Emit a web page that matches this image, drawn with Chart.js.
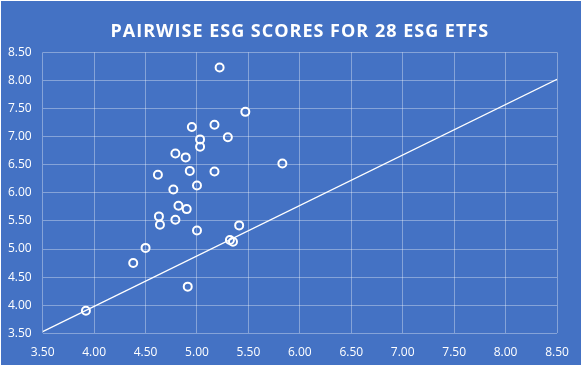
<!DOCTYPE html>
<html>
<head>
<meta charset="utf-8">
<script src="https://cdn.jsdelivr.net/npm/chart.js@4.4.0/dist/chart.umd.min.js"></script>
<style>
  html, body { margin: 0; padding: 0; background: #ffffff; }
  #box { position: absolute; left: 1px; top: 1px; width: 580px; height: 364px; background: #4472c4; }
</style>
</head>
<body>
<div id="box"><canvas id="esgChart"></canvas></div>
<script>
// Pairwise ESG scores, one point per ETF
const scoreA = [5.22, 5.47, 4.95, 5.17, 5.03, 5.03, 5.30, 4.79, 4.89, 5.83,
                4.62, 4.93, 5.17, 4.77, 5.00, 4.82, 4.90, 4.63, 4.64, 4.79,
                5.00, 5.41, 5.32, 5.35, 4.50, 4.91, 4.38, 3.92];
const scoreB = [8.23, 7.44, 7.17, 7.21, 6.95, 6.82, 6.99, 6.70, 6.63, 6.52,
                6.32, 6.39, 6.38, 6.06, 6.13, 5.77, 5.71, 5.58, 5.43, 5.52,
                5.33, 5.42, 5.16, 5.13, 5.02, 4.33, 4.75, 3.90];

// Straight reference line across the plot
const lineX = [3.50, 8.50];
const lineY = [3.53, 8.02];

const axisMin = 3.5;
const axisMax = 8.5;
const axisStep = 0.5;

const gridColor = 'rgba(255, 255, 255, 0.35)';

// title gets its own letter spacing, drawn like the original
const spacedTitle = {
  id: 'spacedTitle',
  beforeDraw(chart) {
    const t = chart.titleBlock;
    if (t && !t._spaced) {
      const orig = t.draw;
      t.draw = function () {
        chart.ctx.save();
        chart.ctx.letterSpacing = '1px';
        orig.call(this);
        chart.ctx.restore();
      };
      t._spaced = true;
    }
  }
};

const ctx = document.getElementById('esgChart').getContext('2d');
new Chart(ctx, {
  type: 'scatter',
  data: {
    datasets: [
      {
        label: 'ETFs',
        data: scoreA.map((x, i) => ({ x: x, y: scoreB[i] })),
        pointRadius: 4,
        pointBorderWidth: 2,
        pointBorderColor: '#ffffff',
        pointBackgroundColor: 'rgba(0,0,0,0)',
        showLine: false
      },
      {
        label: 'Line',
        data: lineX.map((x, i) => ({ x: x, y: lineY[i] })),
        showLine: true,
        borderColor: '#ffffff',
        borderWidth: 1.2,
        pointRadius: 0
      }
    ]
  },
  options: {
    responsive: true,
    maintainAspectRatio: false,
    animation: false,
    layout: { padding: { left: 0, right: 24, top: 0, bottom: 0 } },
    plugins: {
      legend: { display: false },
      tooltip: { enabled: false },
      title: {
        display: true,
        text: 'PAIRWISE ESG SCORES FOR 28 ESG ETFS',
        color: '#ffffff',
        fullSize: false,
        font: { family: 'Open Sans', size: 18, weight: 'bold' },
        padding: { top: 20, bottom: 9.7 }
      }
    },
    scales: {
      x: {
        type: 'linear',
        min: axisMin,
        max: axisMax,
        afterFit(scale) { scale.height = 31.7; },
        ticks: {
          stepSize: axisStep,
          color: '#ffffff',
          padding: 12,
          font: { family: 'Open Sans', size: 12 },
          callback: v => v.toFixed(2)
        },
        grid: { color: gridColor, drawTicks: false },
        border: { display: false }
      },
      y: {
        type: 'linear',
        min: axisMin,
        max: axisMax,
        afterFit(scale) { scale.width = 41.7; },
        ticks: {
          stepSize: axisStep,
          color: '#ffffff',
          padding: 11,
          font: { family: 'Open Sans', size: 12 },
          callback: v => v.toFixed(2)
        },
        grid: { color: gridColor, drawTicks: false },
        border: { display: false }
      }
    }
  },
  plugins: [spacedTitle]
});
</script>
</body>
</html>
